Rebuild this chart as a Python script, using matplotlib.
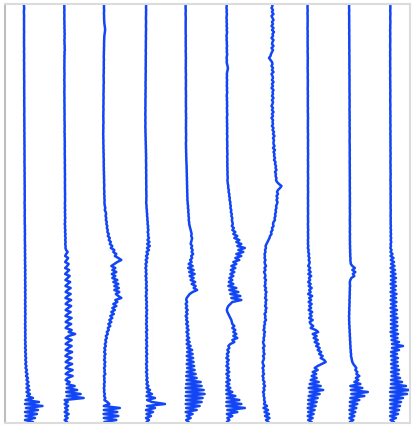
import numpy as np
import matplotlib
matplotlib.use("Agg")
import matplotlib.pyplot as plt

# trace amplitudes, one sample every 2 time steps, 210 samples per trace
trace_1 = [
    0, 0, 0.2, 0, -0.1, 0, 0.1, 0, 0, 0.1,
    0, 0.1, 0, 0, 0.2, 0, 0.1, 0, 0.1, 0,
    0.1, 0, 0.2, 0.1, 0, 0.2, 0.1, 0.2, 0, 0.1,
    0.2, 0.1, 0.2, 0, 0.2, 0.1, 0.3, 0.1, 0.2, 0.3,
    0.2, 0.3, 0.1, 0.3, 0.2, 0.3, 0.2, 0.4, 0.2, 0.3,
    0.3, 0.2, 0.4, 0.3, 0.4, 0.2, 0.3, 0.4, 0.3, 0.4,
    0.4, 0.3, 0.5, 0.3, 0.4, 0.5, 0.3, 0.5, 0.4, 0.5,
    0.4, 0.6, 0.4, 0.5, 0.6, 0.4, 0.6, 0.5, 0.6, 0.4,
    0.6, 0.5, 0.7, 0.5, 0.6, 0.7, 0.5, 0.7, 0.6, 0.7,
    0.6, 0.8, 0.6, 0.7, 0.8, 0.6, 0.8, 0.7, 0.8, 0.6,
    0.6, 0.8, 0.6, 0.9, 0.7, 0.8, 0.6, 0.9, 0.7, 0.8,
    0.7, 1, 0.8, 1, 0.8, 1.1, 0.8, 1, 0.8, 1,
    0.9, 1.2, 0.8, 1.2, 0.9, 1.2, 0.9, 1.3, 0.9, 1.2,
    1, 1.4, 0.9, 1.5, 1, 1.4, 1, 1.5, 1, 1.4,
    1.1, 1.5, 1, 1.6, 1, 1.5, 1.1, 1.6, 1, 1.5,
    1, 1.6, 1, 1.5, 1.1, 1.6, 1, 1.5, 1.1, 1.5,
    1, 1.5, 1, 1.6, 1.1, 1.5, 1.1, 1.6, 1, 1.6,
    1.1, 1.8, 1, 1.9, 1.1, 2, 1.2, 2.2, 1.3, 2.3,
    1.3, 2.5, 1.5, 3, 1.8, 3.5, 2, 4, 2.5, 4.5,
    2.5, 5, 2.5, 5.5, 2.5, 6, 3, 9, 1.5, 15,
    1, 18.5, 2, 14, 1, 13, 1.5, 11, 1, 9,
]
trace_2 = [
    -0.4, -0.3, -0.4, -0.2, -0.4, -0.3, -0.2, -0.4, -0.3, -0.2,
    -0.3, -0.1, -0.3, 0, -0.2, 0.1, -0.2, 0, -0.3, -0.1,
    -0.2, 0.1, -0.1, 0.2, -0.2, 0, -0.3, -0.1, -0.3, -0.2,
    -0.3, -0.2, -0.4, -0.2, -0.3, -0.1, -0.3, -0.2, -0.4, -0.2,
    -0.3, -0.1, -0.3, -0.2, -0.4, -0.2, -0.3, -0.1, -0.3, -0.2,
    -0.2, -0.1, -0.3, -0.1, -0.2, 0, -0.2, -0.1, -0.2, 0,
    -0.1, 0.1, -0.1, 0, -0.2, 0.1, -0.1, 0.1, 0, 0.2,
    0, 0.2, 0, 0.1, 0.2, 0, 0.2, 0.1, 0.3, 0.1,
    0.2, 0.3, 0.1, 0.3, 0.2, 0.4, 0.2, 0.3, 0.4, 0.2,
    0.3, 0.4, 0.2, 0.4, 0.3, 0.5, 0.3, 0.4, 0.5, 0.3,
    0.2, 0.5, 0.1, 0.6, 0.2, 0.5, 0.3, 0.7, 0.2, 0.6,
    0, 0.6, 0.2, 0.8, 0.3, 0.9, 0.4, 1, 0.5, 1,
    0.5, 1, 0.8, 1.5, 3, 1.5, 0.5, 3.5, 2, 0.5,
    4, 2.5, 0.5, 4.5, 2.5, 0.5, 5, 3, 0.8, 5.5,
    3, 0.8, 6, 3, 1, 6, 3, 0.8, 6.5, 3,
    1, 6.5, 3.5, 1, 6, 3, 0.8, 7, 3.5, 1,
    6.5, 3, 1, 7, 4, 10.5, 4, 1, 7, 3.5,
    1, 7, 3.5, 1, 7.5, 3, 0.8, 7, 3.5, 1,
    7.5, 3, 1, 8, 3.5, 1, 8, 3, 1, 5,
    2, 10, 2, 12.5, 1.5, 16, 2, 19, 0, 3,
    0, 3.5, 0.5, 3, 0, 4, 0.5, 3, 0, 2.5,
]
trace_3 = [
    -1.4, -1.3, -1.4, -1.2, -1.3, -1.4, -1.2, -1.3, -1.2, -1.1,
    -0.9, -0.6, -0.3, -0.2, -0.4, -0.7, -1, -1.1, -1.2, -1.3,
    -1.3, -1.2, -1.4, -1.3, -1.5, -1.4, -1.6, -1.5, -1.4, -1.6,
    -1.5, -1.6, -1.4, -1.7, -1.5, -1.6, -1.8, -1.6, -1.7, -1.5,
    -1.7, -1.8, -1.6, -1.8, -1.7, -1.9, -1.8, -1.7, -1.9, -1.8,
    -1.8, -2, -1.9, -1.8, -2, -1.9, -2.1, -1.9, -2, -1.8,
    -2, -2.1, -1.9, -2.1, -2, -2.2, -2, -2.1, -1.9, -2,
    -2, -1.8, -2, -1.7, -1.9, -1.6, -1.8, -1.7, -1.5, -1.7,
    -1.5, -1.7, -1.4, -1.6, -1.3, -1.5, -1.2, -1.4, -1.1, -1.3,
    -1.2, -1, -1.3, -1.1, -0.9, -1.2, -0.8, -1, -0.7, -0.9,
    -0.8, -0.5, 0, -0.6, 0.4, 0.8, 0.2, 1, 0.5, 1.5,
    1, 2, 1.5, 2.5, 2, 3.5, 2.5, 4.5, 3.5, 5.5,
    4.5, 7, 5.5, 9, 8, 11, 9.5, 13, 16, 12,
    9, 6, 10, 7, 11, 6.5, 10, 7, 12, 8,
    13, 9, 13.5, 9, 14, 10.5, 13, 16, 10, 12,
    8, 11, 7, 9.5, 6, 8.5, 5, 7, 4, 6,
    3, 5, 2.5, 3.5, 1.5, 2.5, 0.5, 1.5, 0, 0.8,
    -0.5, 0.5, -1, 0, -1.2, 0.2, -1, -0.3, -1.3, 0,
    -1, -0.2, -1.3, -0.5, -1, 0, -1.5, -0.8, -1.2, -0.5,
    -1.4, -0.8, -1.5, -1, -1.3, -0.5, -1.2, 0, -1, 2,
    4, -1.5, 14.5, -1.5, 12, -1.8, 13, -1.5, 11, -1,
]
trace_4 = [
    0, 0.1, 0, 0.2, 0, 0.1, 0, -0.1, 0, 0.1,
    0, -0.1, 0, 0.1, -0.1, 0, -0.2, 0, -0.1, -0.2,
    -0.1, -0.2, -0.1, -0.3, -0.2, -0.1, -0.3, -0.2, -0.3, -0.2,
    -0.3, -0.2, -0.4, -0.3, -0.2, -0.4, -0.3, -0.4, -0.3, -0.5,
    -0.4, -0.5, -0.3, -0.5, -0.4, -0.6, -0.4, -0.5, -0.6, -0.5,
    -0.6, -0.5, -0.7, -0.5, -0.6, -0.7, -0.6, -0.5, -0.7, -0.6,
    -0.5, -0.7, -0.6, -0.5, -0.6, -0.4, -0.5, -0.3, -0.4, -0.2,
    -0.3, -0.1, -0.2, 0, -0.1, 0.1, 0, 0.2, 0, 0.1,
    0.1, 0.2, 0, 0.3, 0.1, 0.2, 0.3, 0.1, 0.3, 0.2,
    0.2, 0.4, 0.3, 0.2, 0.4, 0.3, 0.5, 0.3, 0.4, 0.2,
    0.3, 0.6, 0.5, 0.9, 0.8, 1.2, 1, 1.5, 1.3, 1.8,
    1.5, 2.2, 1.8, 2.5, 1.6, 2.4, 2, 3, 1.5, 3.5,
    1.2, 3.8, 1, 3, 0.5, 2, 0, 1.5, -0.3, 1,
    -0.5, 0.5, -0.6, 0.4, -0.3, 0.6, -0.5, 0.5, -0.2, 0.8,
    0, 0.8, -0.2, 1, 0, 0.7, -0.3, 0.8, 0, 1,
    0.2, 1, 0, 1.2, 0.3, 1, 0, 1.1, 0.2, 0.9,
    0, 1, 0.2, 1.3, 0, 1, 0.3, 1.2, 0, 1,
    0.3, 1.2, 0, 1, 0.2, 1.3, 0.1, 1, 0.3, 1.2,
    0, 1, 0.2, 1.3, 0, 1.2, 0.4, 1.5, 0.3, 1.8,
    0.5, 2.5, 0.5, 4, 1, 6, 0.5, 9, 1, 6,
    19, 1, 9, 0, 7, 0.5, 5, 0, 3, 0.5,
]
trace_5 = [
    -1.1, -1, -1.1, -0.9, -1, -1.1, -1, -0.9, -1, -1,
    -1, -0.9, -1.1, -1, -0.9, -1, -0.8, -1, -0.9, -1,
    -0.9, -1, -0.8, -0.9, -1, -0.8, -0.9, -0.7, -0.9, -0.8,
    -0.9, -0.8, -1, -0.8, -0.9, -0.7, -0.8, -0.9, -0.7, -0.8,
    -0.8, -0.7, -0.9, -0.8, -0.7, -0.8, -0.6, -0.8, -0.7, -0.8,
    -0.7, -0.8, -0.6, -0.7, -0.8, -0.6, -0.7, -0.5, -0.7, -0.6,
    -0.7, -0.6, -0.8, -0.6, -0.7, -0.5, -0.6, -0.7, -0.5, -0.6,
    -0.8, -0.6, -0.7, -0.5, -0.6, -0.4, -0.5, -0.3, -0.4, -0.2,
    -0.2, 0, -0.1, 0.1, 0, 0.2, 0.1, 0.3, 0.2, 0.4,
    0.3, 0.5, 0.4, 0.6, 0.5, 0.7, 0.6, 0.8, 0.7, 1,
    1, 1.5, 1.2, 1.8, 1.5, 2, 1.8, 2.3, 2, 2.5,
    2.5, 3, 3.5, 4, 4.5, 5, 4.5, 5.5, 5, 4.5,
    4, 5.5, 4.5, 6, 5, 6.5, 4.5, 5.5, 3.5, 5,
    2, 6, 1.5, 7, 2.5, 8, 3, 7, 4, 8.5,
    5, 9, 7, 10.5, 6, 3, 1.5, 0, -0.5, 0.5,
    -1, 0.5, -0.8, 1, -0.5, 0.8, -1, 0.5, -0.5, 1.2,
    -0.5, 1.5, 0, 2, -0.3, 1.8, 0.2, 2.5, 0, 3,
    0, 4, 0.5, 5.5, 0.5, 6, 0, 6.5, 0.5, 7,
    0, 7.5, 0.5, 8, 0, 9, -0.5, 10, 0, 14,
    -0.5, 15, -1, 17, -0.5, 18, -1, 16, -0.5, 15,
    -1, 13, -0.5, 10, -1, 6, 0, 4, -0.5, 2,
]
trace_6 = [
    -0.8, -0.6, -0.9, -0.5, -0.8, -0.4, -0.7, -0.9, -0.5, -0.8,
    -0.4, -0.8, -0.3, -0.7, -0.2, -0.6, -0.9, -0.5, -0.8, -0.4,
    -0.6, -0.2, -0.7, -0.3, -0.6, -0.1, -0.5, -0.8, -0.4, -0.7,
    -0.3, 0.2, 0.6, 0.3, -0.2, -0.5, -0.3, -0.6, -0.2, -0.5,
    -0.3, -0.6, -0.2, -0.5, -0.1, -0.4, -0.7, -0.3, -0.5, -0.2,
    -0.4, -0.1, -0.5, -0.2, -0.4, 0, -0.3, -0.5, -0.2, -0.4,
    -0.1, -0.4, 0, -0.3, -0.1, -0.4, 0.1, -0.2, -0.3, 0,
    -0.2, 0.1, -0.3, 0, -0.1, 0.2, -0.2, 0, 0.1, -0.1,
    0.1, -0.1, 0.2, 0, 0.3, 0.1, 0.2, 0.4, 0.1, 0.3,
    0.5, 1, 0.8, 1.5, 1.2, 2, 1.8, 2.5, 2.2, 3,
    2.8, 3.5, 3, 4, 3.5, 4.5, 4, 5, 4.5, 5,
    5.5, 4.5, 6.5, 5, 8, 6, 10, 7, 12, 9,
    14, 10, 17.5, 11, 16, 9, 14, 8, 12, 6,
    9, 4, 8, 3.5, 7, 3, 6, 2, 5, 1.5,
    6, 1, 9, 2, 11, 3, 13, 4, 14, 5,
    3, 1, 0, -0.5, 0, 1, 2, 3, 4, 4.5,
    5, 7, 5, 8, 6, 9, 6, 10, 5, 7,
    3, 1, 2, 0, 1.5, -0.5, 1, -1, 1.5, -0.5,
    1, -1, 1.5, -0.5, 2, -1, 1.5, -0.5, 2.5, -1,
    2, -1, 3, -1, 5, -1, 8, -0.5, 12, -1,
    14, -1, 17.5, 0, 10, -0.5, 5, 0, 2, -0.5,
]
trace_7 = [
    4, 4.5, 3.5, 5, 4, 5.5, 3.5, 4.5, 5.5, 4,
    5, 3.5, 5.5, 4, 6, 4.5, 5, 3.5, 5.5, 4.5,
    4, 5.5, 3.5, 5, 4, 3, 2.5, 1, 2.5, 4,
    4.5, 3.5, 5, 4, 5.5, 3.5, 4.5, 5, 4, 5.5,
    4, 5, 3.5, 5.5, 4.5, 5, 4, 5.5, 4, 5,
    4.5, 3.5, 5, 4, 5.5, 4, 5, 3.5, 5, 4.5,
    5, 4, 5.5, 4.5, 6, 5, 6.5, 5, 6, 5.5,
    5.5, 6.5, 5, 7, 5.5, 6.5, 6, 7, 6, 7.5,
    7, 8, 7.5, 8.5, 7, 8, 7.5, 8.5, 8, 9,
    11, 13.5, 12, 10, 9, 10, 8.5, 9.5, 8.5, 9.5,
    9, 8, 8.5, 7.5, 8, 7, 7.5, 6.5, 7, 5.5,
    5, 5.5, 4, 4.5, 3, 3.5, 2, 1.5, 0.5, -0.5,
    -1.5, -2.5, -2, -3, -2.5, -3.5, -3, -3.5, -2.5, -3.5,
    -3, -2, -3.5, -2.5, -4, -3, -2.5, -3.5, -2, -3,
    -2.5, -3.5, -2, -3, -1.5, -2.5, -2, -3, -1.5, -2.5,
    -2, -3, -1.5, -2.5, -2, -3.5, -2.5, -3, -2, -3.5,
    -3, -4, -3.5, -4.5, -3, -4, -3.5, -4.5, -4, -5,
    -4.5, -3.5, -5, -4, -4.5, -3.5, -5, -4, -4.5, -5.5,
    -5, -4, -5.5, -4.5, -5, -4, -5.5, -4.5, -5, -3.5,
    -4.5, -3, -4.5, -3.5, -5, -4, -4.5, -3.5, -4, -3,
    -4, -1, -4.5, 0, -3.5, 1, -3, 1.5, -2, 0.5,
]
trace_8 = [
    -1.2, -1.1, -1.2, -1, -1.1, -1.2, -1, -1.1, -1, -1.1,
    -1.1, -1, -1.2, -1.1, -1, -1.1, -0.9, -1.1, -1, -1.1,
    -1, -1.1, -0.9, -1, -1.1, -0.9, -1, -0.8, -1, -0.9,
    -1, -0.9, -1.1, -0.9, -1, -0.8, -0.9, -1, -0.8, -0.9,
    -0.9, -0.8, -1, -0.9, -0.8, -0.9, -0.7, -0.9, -0.8, -0.9,
    -0.8, -0.9, -0.7, -0.8, -0.9, -0.7, -0.8, -0.6, -0.8, -0.7,
    -0.8, -0.7, -0.9, -0.7, -0.8, -0.6, -0.7, -0.8, -0.6, -0.7,
    -0.7, -0.6, -0.8, -0.6, -0.7, -0.5, -0.7, -0.6, -0.8, -0.6,
    -0.7, -0.5, -0.7, -0.6, -0.8, -0.6, -0.7, -0.5, -0.7, -0.6,
    -0.6, -0.8, -0.6, -0.7, -0.5, -0.7, -0.6, -0.8, -0.6, -0.7,
    -0.7, -0.5, -0.8, -0.6, -0.7, -0.5, -0.8, -0.6, -0.7, -0.5,
    -0.8, -0.6, -0.7, -0.4, -0.8, -0.5, -0.7, -0.4, -0.8, -0.5,
    -0.8, -0.3, -0.9, 0, -0.5, 0.5, -0.3, 0.8, 0, 1,
    0.5, -0.5, 1.5, 0, 2, -0.3, 2.5, 0.2, 1.5, -0.5,
    2, 0, 3, 0.5, 2, -0.5, 3.5, 0.5, 2.5, 0,
    3, 0.5, 2.5, 0, 3.5, 1, 3, 0.5, 4, 1,
    2, 4.5, 2, 7, 9.5, 4, 8, 5, 9, 6,
    10, 7.5, 11, 9, 12.5, 10.5, 14, 12, 15.5, 17,
    13, 9, 6, 9, 4, 7.5, 3, 8, 2, 10,
    1, 12, 0, 14.5, 1, 11, 0, 9, -0.5, 8,
    -0.5, 7, -1, 6, -0.5, 5, -1, 4, -0.5, 3,
]
trace_9 = [
    -0.3, -0.2, -0.3, -0.1, -0.2, -0.3, -0.1, -0.2, -0.1, -0.2,
    -0.2, -0.1, -0.2, 0, -0.1, -0.2, 0, -0.1, 0, -0.1,
    -0.1, 0, -0.1, 0.1, 0, -0.1, 0.1, 0, 0.1, 0,
    0, 0.1, 0, 0.2, 0.1, 0, 0.2, 0.1, 0.2, 0.1,
    0.1, 0.2, 0.1, 0.2, 0.1, 0.3, 0.2, 0.1, 0.3, 0.2,
    0.2, 0.3, 0.2, 0.1, 0.3, 0.2, 0.3, 0.2, 0.4, 0.2,
    0.3, 0.2, 0.4, 0.3, 0.2, 0.4, 0.3, 0.4, 0.2, 0.3,
    0.3, 0.4, 0.3, 0.5, 0.3, 0.4, 0.3, 0.5, 0.4, 0.3,
    0.4, 0.5, 0.3, 0.5, 0.4, 0.5, 0.4, 0.6, 0.4, 0.5,
    0.5, 0.4, 0.6, 0.4, 0.5, 0.6, 0.4, 0.6, 0.5, 0.6,
    0.5, 0.6, 0.4, 0.6, 0.5, 0.7, 0.5, 0.6, 0.4, 0.6,
    0.5, 0.7, 0.5, 0.6, 0.4, 0.7, 0.5, 0.6, 0.5, 0.7,
    0.5, 0.8, 0.6, 0.9, 0.7, 1, 0.8, 1.2, 1, 1.3,
    1.5, 3, 5.5, 3, 6, 3.5, 5, 2, 1, 0.5,
    0.5, 0.8, 0.4, 0.6, 0.3, 0.5, 0.2, 0.4, 0, 0.3,
    0, 0.2, -0.2, 0.1, -0.3, 0, -0.4, -0.1, -0.3, 0,
    -0.2, 0.2, 0, 0.4, 0.2, 0.6, 0.4, 0.8, 0.6, 1,
    0.8, 1.2, 1, 1.5, 1.3, 1.8, 1.6, 2.2, 2.5, 3,
    4, 5.5, 7, 6, 8, 7, 10, 6.5, 9, 5,
    11, 1, 13, 1.5, 18.5, 2, 15, 1, 10, 0.5,
    8, 0.5, 7, 0, 6, 0.5, 5, 0, 4, 0.5,
]
trace_10 = [
    0.4, 0.3, 0.4, 0.2, 0.3, 0.4, 0.3, 0.2, 0.3, 0.4,
    0.3, 0.2, 0.3, 0.1, 0.2, 0.3, 0.1, 0.2, 0.3, 0.2,
    0.2, 0.1, 0.2, 0.3, 0.1, 0.2, 0.1, 0.3, 0.2, 0.1,
    0.2, 0.1, 0.3, 0.2, 0.1, 0.2, 0.3, 0.1, 0.2, 0.3,
    0.2, 0.3, 0.2, 0.4, 0.3, 0.2, 0.4, 0.3, 0.2, 0.3,
    0.3, 0.4, 0.2, 0.3, 0.4, 0.3, 0.5, 0.3, 0.4, 0.3,
    0.4, 0.5, 0.3, 0.4, 0.5, 0.3, 0.5, 0.4, 0.5, 0.4,
    0.5, 0.4, 0.6, 0.4, 0.5, 0.6, 0.4, 0.6, 0.5, 0.4,
    0.5, 0.6, 0.4, 0.6, 0.5, 0.7, 0.5, 0.6, 0.4, 0.6,
    0.5, 0.7, 0.5, 0.6, 0.7, 0.5, 0.7, 0.6, 0.7, 0.5,
    0.6, 0.7, 0.5, 0.8, 0.6, 0.7, 0.5, 0.8, 0.6, 0.7,
    0.6, 0.9, 0.5, 1, 0.6, 1.1, 0.5, 1.2, 0.6, 1.3,
    0.5, 1, 0.3, 1.5, 0.5, 2.5, 0.5, 3.5, 0.8, 4,
    1, 4.5, 0.5, 5, 1, 5.5, 0.8, 6, 1, 5.5,
    0.5, 6, 1, 5.5, 0.5, 6.5, 1, 6, 0.5, 6.5,
    1, 6, 0.5, 7, 1, 6.5, 0.8, 7.5, 1, 7,
    0.8, 7.5, 1, 7, 0.5, 8, 1, 7.5, 1.5, 9,
    2, 13, 2, 9, 1, 7, 1, 8, 1.5, 7.5,
    1, 8, 1.5, 9, 1, 8.5, 1.5, 10, 1, 12,
    1, 16, 0.5, 19.5, 0, 17, 0.5, 13, 0, 11,
    0.5, 10, 0, 9, 0.5, 8, 0, 6, 0.5, 4,
]

traces = [trace_1, trace_2, trace_3, trace_4, trace_5,
          trace_6, trace_7, trace_8, trace_9, trace_10]
trace_no = np.arange(1, len(traces) + 1)
gain = 1 / 40.7

fig = plt.figure(figsize=(4.15, 4.26), dpi=100)
ax = fig.add_axes([4.5 / 415, 3 / 426, 405.5 / 415, 419 / 426])

for k, amp in zip(trace_no, traces):
    amp = np.asarray(amp, dtype=float)
    t = np.arange(len(amp))
    ax.plot(k + amp * gain, t, color='#1245f5', lw=1.8,
            solid_joinstyle='round', solid_capstyle='round')

ax.set_xlim(1 - 19.5 * gain, 10 + 20 * gain)
ax.set_ylim(209.5, 0)
ax.set_xticks([])
ax.set_yticks([])
for side, sp in ax.spines.items():
    sp.set_color('#dcdcdc')
    sp.set_linewidth(1.5)
ax.spines['left'].set_color('#bdbdbd')

fig.savefig('out.png', dpi=100, facecolor='white')
